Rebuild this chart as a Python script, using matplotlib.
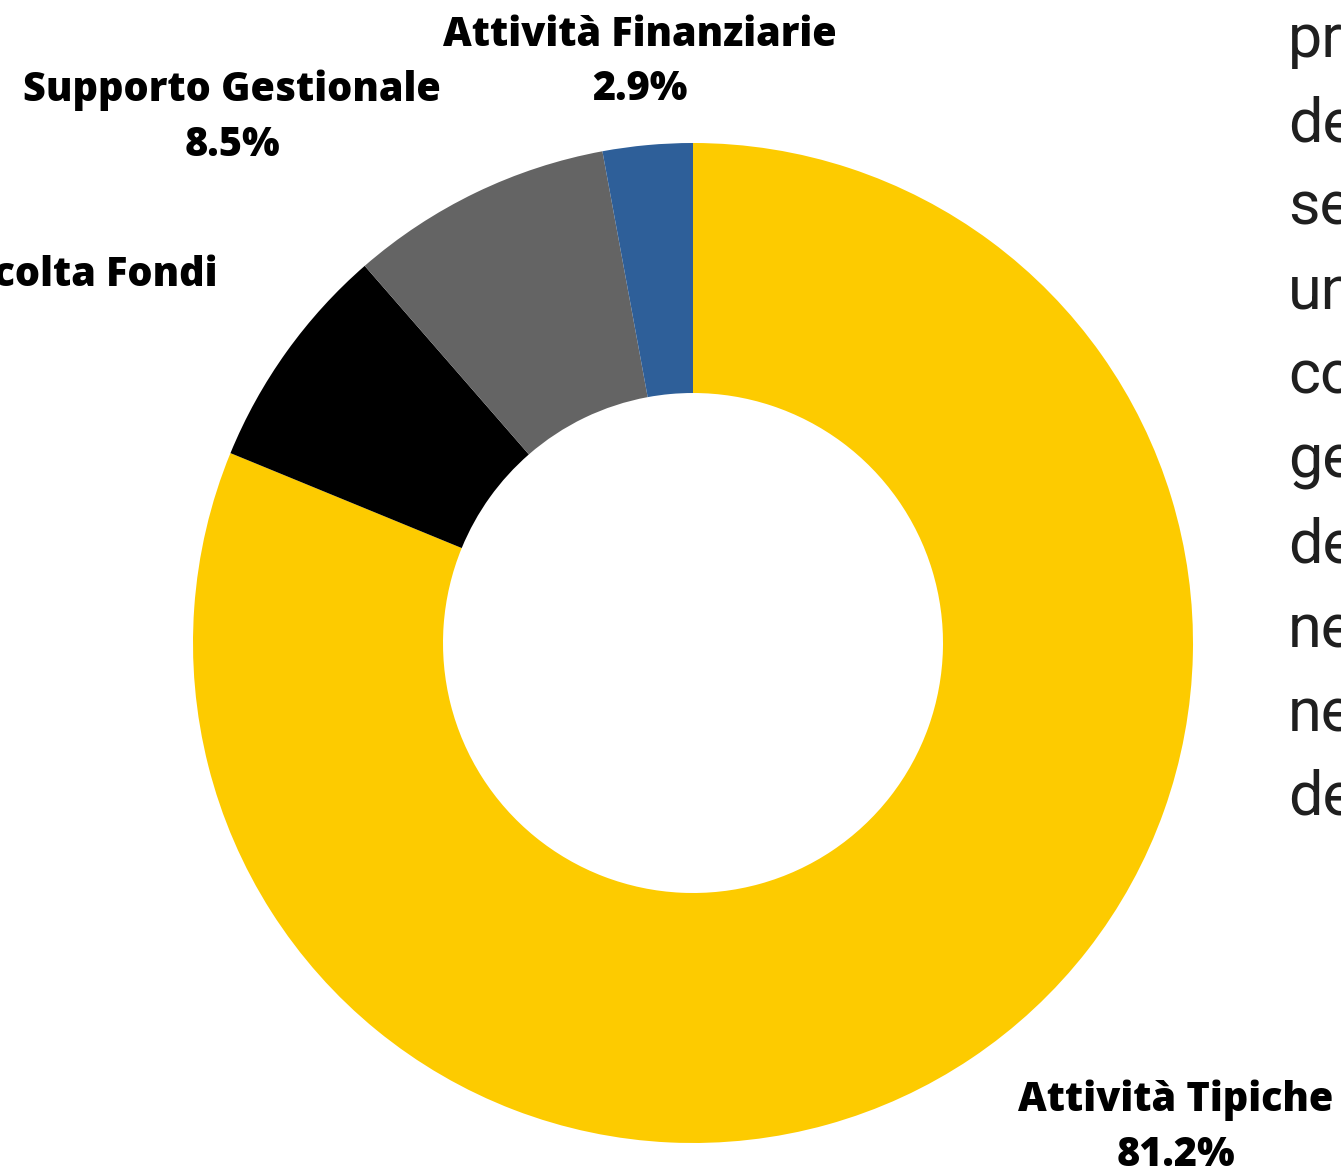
import matplotlib.pyplot as plt

# donut data, clockwise from 12 o'clock
labels = ["Attività Tipiche", "Raccolta Fondi", "Supporto Gestionale", "Attività Finanziarie"]
shares = [81.2, 7.4, 8.5, 2.9]
colors = ["#FDCB00", "#000000", "#646464", "#2E5F99"]
pct_text = ["81.2%", "", "8.5%", "2.9%"]

# cut-off paragraph on the right side of the page
side_words = ["prospetto", "delle", "seguente", "un", "come", "gestione",
              "dei", "nella", "nel", "delle"]

W, H = 1341, 1172
fig = plt.figure(figsize=(W / 100, H / 100), dpi=100)
ax = fig.add_axes([0, 0, 1, 1])

cx, cy = 693, H - 643
ax.pie(shares, colors=colors, startangle=90, counterclock=False,
       center=(cx, cy), radius=500, frame=True,
       wedgeprops=dict(width=250, linewidth=0))
ax.set_xlim(0, W)
ax.set_ylim(0, H)
ax.set_aspect("equal")
ax.axis("off")

lab_font = dict(family=["Open Sans", "DejaVu Sans"], fontweight="heavy",
                fontsize=28.5, color="black", va="center")

# label positions in pixel coords (x, y from top), with alignment
lab_pos = [(1176, 1100, "center"), (218, 275, "right"),
           (232, 90, "center"), (640, 35, "center")]
for name, pct, (x, y, al) in zip(labels, pct_text, lab_pos):
    ax.text(x, H - y, name, ha=al, **lab_font)
    if pct:
        ax.text(x, H - y - 55, pct, ha=al, **lab_font)

for i, w in enumerate(side_words):
    ax.text(1288, H - (40 + i * 84.2), w, family=["Roboto", "DejaVu Sans"],
            fontweight="normal", fontsize=44, color="#1f1f1f",
            ha="left", va="center")

fig.savefig("out.png", dpi=100)
